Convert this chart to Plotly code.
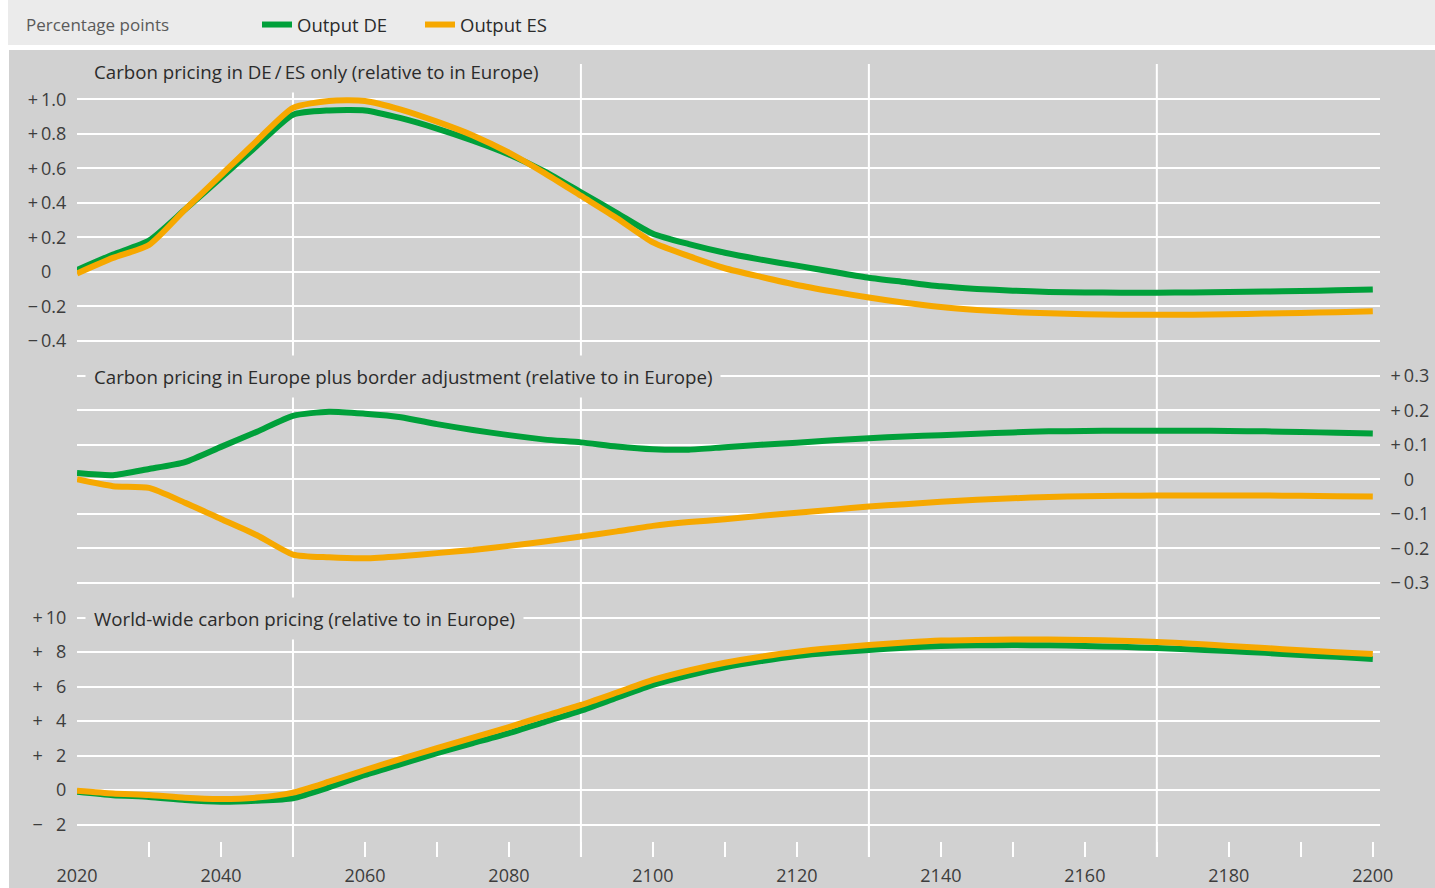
import plotly.graph_objects as go

W, H = 1435, 888

# ---- data -----------------------------------------------------------------
YEARS = list(range(2020, 2201, 5))

# Carbon pricing in DE/ES only (relative to in Europe), percentage points
DE_ONLY_DE = [0.01, 0.10, 0.18, 0.36, 0.545, 0.73, 0.91, 0.935, 0.935, 0.89,
              0.83, 0.76, 0.68, 0.58, 0.46, 0.34, 0.22, 0.16, 0.11, 0.07,
              0.035, 0.00, -0.035, -0.06, -0.085, -0.10, -0.11, -0.117, -0.12,
              -0.122, -0.122, -0.12, -0.118, -0.115, -0.112, -0.108, -0.103]
DE_ONLY_ES = [-0.01, 0.08, 0.155, 0.36, 0.56, 0.76, 0.95, 0.99, 0.99, 0.94,
              0.87, 0.79, 0.69, 0.57, 0.44, 0.31, 0.17, 0.09, 0.02, -0.03,
              -0.077, -0.115, -0.15, -0.18, -0.205, -0.222, -0.234, -0.241,
              -0.246, -0.249, -0.25, -0.249, -0.246, -0.243, -0.239, -0.235,
              -0.23]

# Carbon pricing in Europe plus border adjustment (relative to in Europe)
BORDER_DE = [0.018, 0.012, 0.03, 0.05, 0.094, 0.138, 0.184, 0.196, 0.19, 0.18,
             0.16, 0.143, 0.128, 0.115, 0.107, 0.095, 0.087, 0.086, 0.093, 0.10,
             0.106, 0.113, 0.119, 0.124, 0.128, 0.132, 0.136, 0.139, 0.14,
             0.141, 0.141, 0.141, 0.14, 0.139, 0.137, 0.135, 0.133]
BORDER_ES = [0.0, -0.02, -0.025, -0.068, -0.115, -0.162, -0.218, -0.226, -0.229,
             -0.223, -0.214, -0.205, -0.193, -0.18, -0.166, -0.151, -0.135,
             -0.124, -0.116, -0.106, -0.097, -0.088, -0.079, -0.072, -0.065,
             -0.059, -0.055, -0.051, -0.049, -0.048, -0.047, -0.047, -0.047,
             -0.047, -0.048, -0.049, -0.05]

# World-wide carbon pricing (relative to in Europe)
WORLD_DE = [-0.1, -0.3, -0.4, -0.58, -0.68, -0.62, -0.48, 0.15, 0.87, 1.5,
            2.14, 2.72, 3.3, 3.95, 4.6, 5.35, 6.09, 6.65, 7.11, 7.47, 7.77,
            7.97, 8.12, 8.25, 8.35, 8.39, 8.4, 8.39, 8.35, 8.3, 8.23, 8.15,
            8.06, 7.95, 7.83, 7.72, 7.6]
WORLD_ES = [-0.04, -0.2, -0.29, -0.45, -0.52, -0.44, -0.15, 0.48, 1.16, 1.8,
            2.43, 3.04, 3.65, 4.3, 4.93, 5.65, 6.38, 6.93, 7.38, 7.73, 8.02,
            8.23, 8.41, 8.55, 8.66, 8.7, 8.72, 8.72, 8.7, 8.65, 8.58, 8.48,
            8.35, 8.23, 8.1, 7.99, 7.88]

PANEL_TITLES = [
    "Carbon pricing in DE\u2009/\u2009ES only (relative to in Europe)",
    "Carbon pricing in Europe plus border adjustment (relative to in Europe)",
    "World-wide carbon pricing (relative to in Europe)",
]
SERIES_NAMES = ["Output DE", "Output ES"]
UNIT_LABEL = "Percentage points"

X_TICKS = list(range(2020, 2201, 10))
X_LABELS = [str(y) if y % 20 == 0 else "" for y in X_TICKS]
X_GRID = [2050, 2090, 2130, 2170]

P1_TICKS = [1.0, 0.8, 0.6, 0.4, 0.2, 0.0, -0.2, -0.4]
P1_LABELS = ["+\u20091.0", "+\u20090.8", "+\u20090.6", "+\u20090.4", "+\u20090.2",
             "0\u2008\u2007", "\u2212\u20090.2", "\u2212\u20090.4"]
P2_TICKS = [0.3, 0.2, 0.1, 0.0, -0.1, -0.2, -0.3]
P2_LABELS = ["+\u20090.3", "+\u20090.2", "+\u20090.1", "\u2007\u20090",
             "\u2212\u20090.1", "\u2212\u20090.2", "\u2212\u20090.3"]
P3_TICKS = [10, 8, 6, 4, 2, 0, -2]
P3_LABELS = ["+\u200910", "+\u2009\u20078", "+\u2009\u20076", "+\u2009\u20074",
             "+\u2009\u20072", "0", "\u2212\u2009\u20072"]

# ---- styling ----------------------------------------------------------------
GREEN = "#00a03a"
ORANGE = "#f6a800"
PANEL_BG = "#d1d1d1"
BAND_BG = "#ebebeb"
TEXT = "#2b2b2b"
TICK_TEXT = "#3d3d3d"
FONT = "Open Sans"


def fy(p):
    """pixel row -> paper fraction"""
    return 1 - p / H


def fx(p):
    """pixel column -> paper fraction"""
    return p / W


def ydomain(zero_px, px_per_unit, lo, hi):
    return [fy(zero_px - lo * px_per_unit), fy(zero_px - hi * px_per_unit)]


X_DOMAIN = [fx(77), fx(1380)]

fig = go.Figure()

panels = [
    ("x2", "y", DE_ONLY_DE, DE_ONLY_ES, True),
    ("x3", "y2", BORDER_DE, BORDER_ES, False),
    ("x", "y3", WORLD_DE, WORLD_ES, False),
]
for xa, ya, de, es, legend in panels:
    for name, vals, col in ((SERIES_NAMES[0], de, GREEN), (SERIES_NAMES[1], es, ORANGE)):
        fig.add_trace(go.Scatter(
            x=YEARS, y=vals, mode="lines", name=name, legendgroup=name,
            showlegend=legend, xaxis=xa, yaxis=ya,
            line=dict(color=col, width=6, shape="spline", smoothing=0.6),
            hoverinfo="skip",
        ))

y_common = dict(
    showgrid=True, gridcolor="white", gridwidth=2, zeroline=False,
    showline=False, ticks="outside", ticklen=6, tickcolor="rgba(0,0,0,0)",
    tickfont=dict(family=FONT, size=18, color=TICK_TEXT), automargin=False,
    fixedrange=True,
)

fig.update_layout(
    width=W, height=H,
    margin=dict(l=0, r=0, t=0, b=0),
    paper_bgcolor="white",
    plot_bgcolor="rgba(0,0,0,0)",
    font=dict(family=FONT, color=TEXT),
    xaxis=dict(
        domain=X_DOMAIN, range=[2020, 2201], anchor="free", position=fy(857),
        tickmode="array", tickvals=X_TICKS, ticktext=X_LABELS,
        ticks="inside", ticklen=15, tickwidth=2, tickcolor="white",
        ticklabelstandoff=6,
        showgrid=False, zeroline=False, showline=False, automargin=False,
        tickfont=dict(family=FONT, size=18, color=TICK_TEXT), fixedrange=True,
    ),
    xaxis2=dict(domain=X_DOMAIN, matches="x", anchor="y", visible=False),
    xaxis3=dict(domain=X_DOMAIN, matches="x", anchor="y2", visible=False),
    yaxis=dict(domain=ydomain(271.7, 172.5, -0.5, 1.1), range=[-0.5, 1.1],
               anchor="x2", tickmode="array", tickvals=P1_TICKS,
               ticktext=P1_LABELS, **y_common),
    yaxis2=dict(domain=ydomain(479.3, 345.0, -0.33, 0.33), range=[-0.33, 0.33],
                anchor="x3", side="right", tickmode="array", tickvals=P2_TICKS,
                ticktext=P2_LABELS, **y_common),
    yaxis3=dict(domain=ydomain(790.0, 17.25, -2.6, 10.6), range=[-2.6, 10.6],
                anchor="x", tickmode="array", tickvals=P3_TICKS,
                ticktext=P3_LABELS, **y_common),
    showlegend=True,
    legend=dict(
        orientation="h", x=fx(257), xanchor="left", y=fy(25), yanchor="middle",
        bgcolor="rgba(0,0,0,0)", font=dict(family=FONT, size=18.5, color=TEXT),
        entrywidth=118, entrywidthmode="pixels",
        itemclick=False, itemdoubleclick=False,
    ),
)

# background bands and vertical grid lines
shapes = [
    dict(type="rect", xref="paper", yref="paper", x0=fx(8), x1=1, y0=fy(45), y1=1,
         fillcolor=BAND_BG, line_width=0, layer="below"),
    dict(type="rect", xref="paper", yref="paper", x0=fx(9), x1=1, y0=0, y1=fy(50),
         fillcolor=PANEL_BG, line_width=0, layer="below"),
]
for gx in X_GRID:
    shapes.append(dict(type="line", xref="x", yref="paper", x0=gx, x1=gx,
                       y0=fy(857), y1=fy(64), line=dict(color="white", width=2),
                       layer="below"))
fig.update_layout(shapes=shapes)

# panel titles sit on a patch of panel colour that interrupts the grid
title_rows = [71, 376, 618]
for text, row in zip(PANEL_TITLES, title_rows):
    fig.add_annotation(
        text=text, xref="paper", yref="paper", x=fx(85), y=fy(row),
        xanchor="left", yanchor="middle", showarrow=False,
        font=dict(family=FONT, size=18.7, color=TEXT),
        bgcolor=PANEL_BG, borderpad=8,
    )

fig.add_annotation(
    text=UNIT_LABEL, xref="paper", yref="paper", x=fx(24), y=fy(25),
    xanchor="left", yanchor="middle", showarrow=False,
    font=dict(family=FONT, size=17, color="#5a5a5a"),
)

fig.write_html("out.html")
